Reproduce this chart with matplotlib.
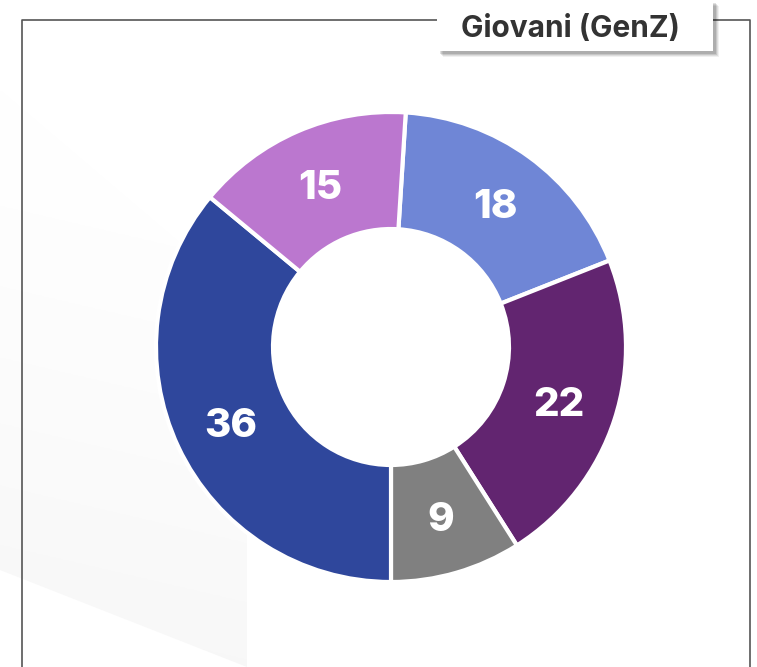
import matplotlib
matplotlib.use("Agg")
import matplotlib.pyplot as plt
import numpy as np
from matplotlib.patches import Rectangle, Polygon

values = [18, 22, 9, 36, 15]
colors = ["#6f86d6", "#622570", "#808080", "#2f479c", "#bb77cf"]
title = "Giovani (GenZ)"

W, H = 757, 667
fig = plt.figure(figsize=(W / 100, H / 100), dpi=100)
fig.patch.set_facecolor("white")
ax = fig.add_axes([0, 0, 1, 1])
ax.set_xlim(0, W)
ax.set_ylim(0, H)
ax.axis("off")

def Y(py):
    return H - py

# faint background shape
poly_pts = [(0, Y(90)), (247, Y(300)), (247, Y(667)), (0, Y(570))]
poly = Polygon(poly_pts, closed=True, facecolor="none", edgecolor="none")
ax.add_patch(poly)
gx = np.linspace(0, 1, 200)
gy = np.linspace(0, 1, 200)
GX, GY = np.meshgrid(gx, gy)
grad = 1.0 - 0.032 * np.clip(1 - (GY * 1.0 + GX * 0.1), 0, 1) ** 1.3
img = ax.imshow(np.dstack([grad, grad, grad]), extent=(0, 247, Y(667), Y(90)),
                origin="lower", aspect="auto", zorder=0.5)
img.set_clip_path(poly)

# frame
ax.plot([22, 22, 750, 750], [Y(667), Y(20), Y(20), Y(667)], color="#555555", lw=1.2, zorder=1)

# donut
wedges, texts, autotexts = ax.pie(
    values, colors=colors, startangle=86.4, counterclock=False,
    center=(391, Y(347)), radius=235, frame=True,
    wedgeprops=dict(width=117, edgecolor="white", linewidth=3),
    autopct=lambda p: f"{p:.0f}", pctdistance=0.753,
    textprops=dict(color="white", fontsize=29, fontweight=800, family="Inter"),
)
for t in autotexts:
    t.set_va("center_baseline")
ax.set_xlim(0, W)
ax.set_ylim(0, H)
ax.set_aspect("equal")
ax.axis("off")

# title box with shadow
for i, a in enumerate([0.06, 0.08, 0.10, 0.12]):
    off = 6 - i
    ax.add_patch(Rectangle((437 + off, Y(51 + off)), 276, 51, facecolor="#000000",
                           alpha=a, edgecolor="none", zorder=3))
ax.add_patch(Rectangle((437, Y(51)), 276, 51, facecolor="white", edgecolor="none", zorder=4))
ax.text(570, Y(26), title, ha="center", va="center_baseline", fontsize=21.5, fontweight=700,
        color="#333333", family="Inter", zorder=5)

fig.savefig("out.png", dpi=100)
